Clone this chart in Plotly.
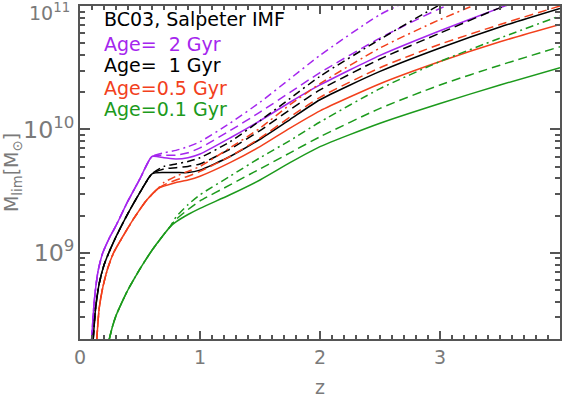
import plotly.graph_objects as go

# ---------------- data (log10 of M_lim in solar masses) ----------------
# Age = 2 Gyr
z_low_2 = [0.097, 0.12, 0.15, 0.19, 0.25, 0.3, 0.4, 0.5, 0.6]
lm_low_2 = [8.30, 8.62, 8.85, 9.00, 9.13, 9.22, 9.42, 9.60, 9.78]
z_hi_2 = [0.7, 0.8, 0.9, 1.0, 1.25, 1.5, 1.75, 2.0, 2.5, 3.0, 3.5, 4.0]
lm_2_solid = [9.77, 9.76, 9.77, 9.80, 9.93, 10.07, 10.22, 10.36, 10.60, 10.80, 10.985, 11.17]
lm_2_dash = [9.79, 9.79, 9.81, 9.85, 9.99, 10.14, 10.30, 10.46, 10.74, 10.98, 11.18, 11.36]
lm_2_dashdot = [9.81, 9.83, 9.86, 9.90, 10.05, 10.22, 10.41, 10.60, 10.93, 11.16, 11.38, 11.58]

# Age = 1 Gyr
z_low_1 = [0.11, 0.13, 0.16, 0.2, 0.24, 0.3, 0.4, 0.5, 0.6]
lm_low_1 = [8.30, 8.55, 8.75, 8.90, 9.00, 9.13, 9.32, 9.49, 9.64]
z_hi_1 = [0.7, 0.8, 0.9, 1.0, 1.25, 1.5, 1.75, 2.0, 2.5, 3.0, 3.5, 4.0]
lm_1_solid = [9.65, 9.65, 9.65, 9.67, 9.78, 9.92, 10.08, 10.24, 10.47, 10.66, 10.83, 10.98]
lm_1_dash = [9.68, 9.69, 9.70, 9.72, 9.84, 9.99, 10.16, 10.32, 10.57, 10.78, 10.985, 11.15]
lm_1_dashdot = [9.70, 9.72, 9.74, 9.77, 9.90, 10.07, 10.25, 10.43, 10.73, 11.01, 11.24, 11.44]

# Age = 0.5 Gyr
z_low_05 = [0.14, 0.16, 0.19, 0.23, 0.28, 0.35, 0.45, 0.55, 0.65]
lm_low_05 = [8.30, 8.55, 8.72, 8.87, 9.00, 9.12, 9.28, 9.42, 9.52]
z_hi_05 = [0.7, 0.8, 0.9, 1.0, 1.25, 1.5, 1.75, 2.0, 2.5, 3.0, 3.5, 4.0]
lm_05_solid = [9.54, 9.57, 9.59, 9.62, 9.73, 9.86, 10.01, 10.15, 10.37, 10.55, 10.71, 10.85]
lm_05_dash = [9.55, 9.59, 9.62, 9.66, 9.78, 9.93, 10.10, 10.26, 10.50, 10.69, 10.85, 11.00]
lm_05_dashdot = [9.57, 9.62, 9.66, 9.70, 9.85, 10.01, 10.20, 10.37, 10.66, 10.89, 11.09, 11.27]

# Age = 0.1 Gyr
z_low_01 = [0.244, 0.27, 0.3, 0.35, 0.4, 0.5, 0.6, 0.7, 0.75]
lm_low_01 = [8.30, 8.40, 8.49, 8.60, 8.70, 8.87, 9.02, 9.15, 9.21]
z_hi_01 = [0.8, 0.9, 1.0, 1.25, 1.5, 1.75, 2.0, 2.5, 3.0, 3.5, 4.0]
lm_01_solid = [9.25, 9.31, 9.36, 9.47, 9.59, 9.73, 9.86, 10.05, 10.21, 10.36, 10.50]
lm_01_dash = [9.27, 9.35, 9.42, 9.55, 9.68, 9.81, 9.94, 10.17, 10.36, 10.52, 10.67]
lm_01_dashdot = [9.29, 9.39, 9.47, 9.62, 9.77, 9.91, 10.06, 10.33, 10.55, 10.74, 10.92]

legend_lines = ["BC03, Salpeter IMF", "Age=\u00a0\u00a02 Gyr", "Age=\u00a0\u00a01 Gyr",
                "Age=0.5 Gyr", "Age=0.1 Gyr"]
y_top_label = "10<sup>11</sup>"

# ---------------- styles ----------------
PURPLE = "#A526EE"
BLACK = "#000000"
ORANGE = "#F2401C"
GREEN = "#1C9A1C"
DASH = "9px,5px"
DASHDOT = "8px,4px,2px,4px"

groups = [
    (PURPLE, z_low_2, lm_low_2, z_hi_2, [lm_2_solid, lm_2_dash, lm_2_dashdot]),
    (BLACK, z_low_1, lm_low_1, z_hi_1, [lm_1_solid, lm_1_dash, lm_1_dashdot]),
    (ORANGE, z_low_05, lm_low_05, z_hi_05, [lm_05_solid, lm_05_dash, lm_05_dashdot]),
    (GREEN, z_low_01, lm_low_01, z_hi_01, [lm_01_solid, lm_01_dash, lm_01_dashdot]),
]

fig = go.Figure()
for color, zl, ll, zh, highs in groups:
    for hi, dash in zip(highs, ["solid", DASH, DASHDOT]):
        zz = zl + zh
        yy = [10 ** v for v in ll + hi]
        fig.add_trace(go.Scatter(x=zz, y=yy, mode="lines",
                                 line=dict(color=color, width=1.5, dash=dash, shape="spline", smoothing=0.6),
                                 showlegend=False, hoverinfo="skip"))

FONT = "DejaVu Sans"
AXC = "#555555"
TXC = "#7a7a7a"

fig.update_layout(
    width=566, height=399,
    margin=dict(l=80, r=6, t=4, b=53),
    plot_bgcolor="white",
    font=dict(family=FONT, size=19, color=TXC),
    xaxis=dict(range=[0, 4], dtick=1, showline=True, linecolor=AXC, linewidth=1.5, mirror="allticks",
               ticks="inside", ticklen=8, tickcolor=AXC, tickwidth=1.5,
               minor=dict(dtick=0.1, ticks="inside", ticklen=4, tickcolor=AXC),
               tickfont=dict(family=FONT, size=19, color=TXC),
               title=dict(text="z", font=dict(family=FONT, size=19, color=TXC), standoff=14)),
    yaxis=dict(type="log", range=[8.30103, 11], dtick=1, exponentformat="power",
               showline=True, linecolor=AXC, linewidth=1.5, mirror="allticks",
               ticks="inside", ticklen=10, tickcolor=AXC, tickwidth=1.5,
               minor=dict(ticks="inside", ticklen=5, tickcolor=AXC),
               tickfont=dict(family=FONT, size=19, color=TXC),
               title=dict(text="M<sub>lim</sub>[M<sub>\u2299</sub>]",
                          font=dict(family=FONT, size=19, color=TXC), standoff=4)),
)

# top y tick label (log axis: annotation y given in log10 units), kept inside the page
fig.add_annotation(x=-8 / 480, y=11, xref="paper", yref="y", xanchor="right", yanchor="middle",
                   yshift=-6, showarrow=False, text=y_top_label,
                   font=dict(family=FONT, size=19, color=TXC))

leg_colors = [BLACK, PURPLE, BLACK, ORANGE, GREEN]
leg_y = [17.5, 43, 65, 88, 110]
for txt, col, yp in zip(legend_lines, leg_colors, leg_y):
    fig.add_annotation(x=(102 - 80) / 480, y=(346 - yp) / 342, xref="paper", yref="paper",
                       xanchor="left", yanchor="middle", showarrow=False, text=txt,
                       font=dict(family=FONT, size=19, color=col))

fig.write_html("out.html", config={"displayModeBar": False},
               post_script="document.body.style.margin='0';document.body.style.overflow='hidden';")
